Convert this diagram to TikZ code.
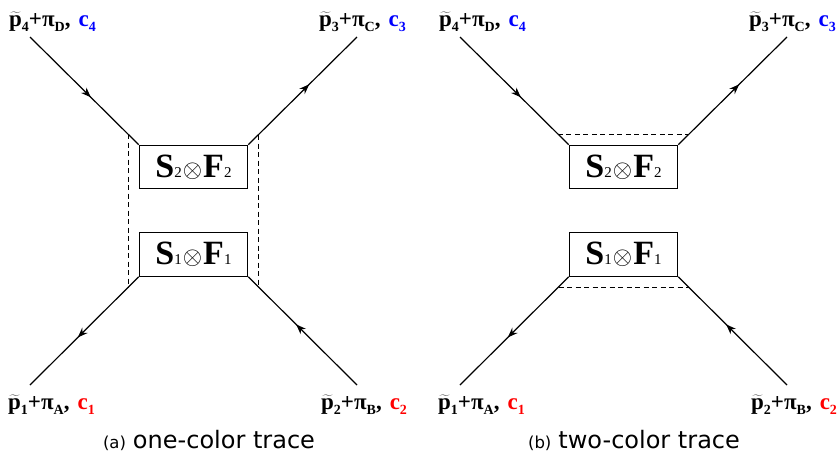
\documentclass[tikz,border=0pt]{standalone}
\usepackage{fontspec}
\setmainfont{Liberation Serif}
\newfontfamily\capfont{DejaVu Sans}
\usetikzlibrary{arrows.meta,decorations.markings,calc}
\newcommand\lsub[1]{\raisebox{-5pt}{\fontsize{14}{14}\selectfont #1}}
\newcommand\plab[4]{{\fontsize{23}{23}\selectfont\bfseries $\widetilde{\mbox{p}}$\lsub{#1}+π\lsub{#2},\hspace{8pt}\textcolor{#4}{c\lsub{#3}}}}
\newcommand\boxtext[1]{{\fontsize{34}{34}\selectfont\bfseries S}{\fontsize{15}{15}\selectfont #1}\hspace{1pt}{\fontsize{24}{24}\selectfont$\otimes$}\hspace{1pt}{\fontsize{34}{34}\selectfont\bfseries F}{\fontsize{15}{15}\selectfont #1}}
\tikzset{
 x=1pt,y=-1pt,
 opbox/.style={draw,line width=1.2pt,minimum width=108.5pt,minimum height=43.5pt,inner sep=0pt},
 leg/.style={line width=1.2pt},
 legarrow/.style={leg,postaction={decorate},decoration={markings,mark=at position 0.56 with {\arrow{Stealth[length=10pt,width=7.5pt]}}}},
 trace/.style={line width=1pt,dash pattern=on 5pt off 3.5pt},
 lbl/.style={anchor=base west,inner sep=0pt},
 capnode/.style={anchor=base,inner sep=0pt,font=\capfont}
}
\begin{document}
\begin{tikzpicture}
\useasboundingbox (0,0) rectangle (839,456);
% ---------- panel (a)
\node[opbox] (a2) at (193.5,167) {\boxtext{2}};
\node[opbox] (a1) at (193.5,254.5) {\boxtext{1}};
\coordinate (a4e) at (30,37);
\coordinate (a3e) at (357,37);
\coordinate (a1e) at (30,385);
\coordinate (a2e) at (357,385);
\draw[legarrow] (a4e) -- (a2.north west);
\draw[legarrow] (a2.north east) -- (a3e);
\draw[legarrow] (a1.south west) -- (a1e);
\draw[legarrow] (a2e) -- (a1.south east);
\draw[trace] (intersection of a4e--a2.north west and 128,0--128,1) -- (intersection of a1e--a1.south west and 128,0--128,1);
\draw[trace] (intersection of a3e--a2.north east and 258,0--258,1) -- (intersection of a2e--a1.south east and 258,0--258,1);
\node[lbl] (la4) at (9,26) {\plab{4}{D}{4}{blue}};
\node[lbl] (la3) at (319,26) {\plab{3}{C}{3}{blue}};
\node[lbl] (la1) at (8,409) {\plab{1}{A}{1}{red}};
\node[lbl] (la2) at (321,409) {\plab{2}{B}{2}{red}};
\node[capnode] (capa) at (209,448) {{\fontsize{16.5}{16.5}\selectfont (a)}\hspace{7pt}{\fontsize{24}{24}\selectfont one-color trace}};
% ---------- panel (b)
\node[opbox] (b2) at (623.5,167) {\boxtext{2}};
\node[opbox] (b1) at (623.5,254.5) {\boxtext{1}};
\coordinate (b4e) at (460,37);
\coordinate (b3e) at (787,37);
\coordinate (b1e) at (460,385);
\coordinate (b2e) at (787,385);
\draw[legarrow] (b4e) -- (b2.north west);
\draw[legarrow] (b2.north east) -- (b3e);
\draw[legarrow] (b1.south west) -- (b1e);
\draw[legarrow] (b2e) -- (b1.south east);
\draw[trace] (intersection of b4e--b2.north west and 0,134--1,134) -- (intersection of b3e--b2.north east and 0,134--1,134);
\draw[trace] (intersection of b1e--b1.south west and 0,287--1,287) -- (intersection of b2e--b1.south east and 0,287--1,287);
\node[lbl] (lb4) at (439,26) {\plab{4}{D}{4}{blue}};
\node[lbl] (lb3) at (749,26) {\plab{3}{C}{3}{blue}};
\node[lbl] (lb1) at (438,409) {\plab{1}{A}{1}{red}};
\node[lbl] (lb2) at (751,409) {\plab{2}{B}{2}{red}};
\node[capnode] (capb) at (634,448) {{\fontsize{16.5}{16.5}\selectfont (b)}\hspace{7pt}{\fontsize{24}{24}\selectfont two-color trace}};
\end{tikzpicture}
\end{document}
